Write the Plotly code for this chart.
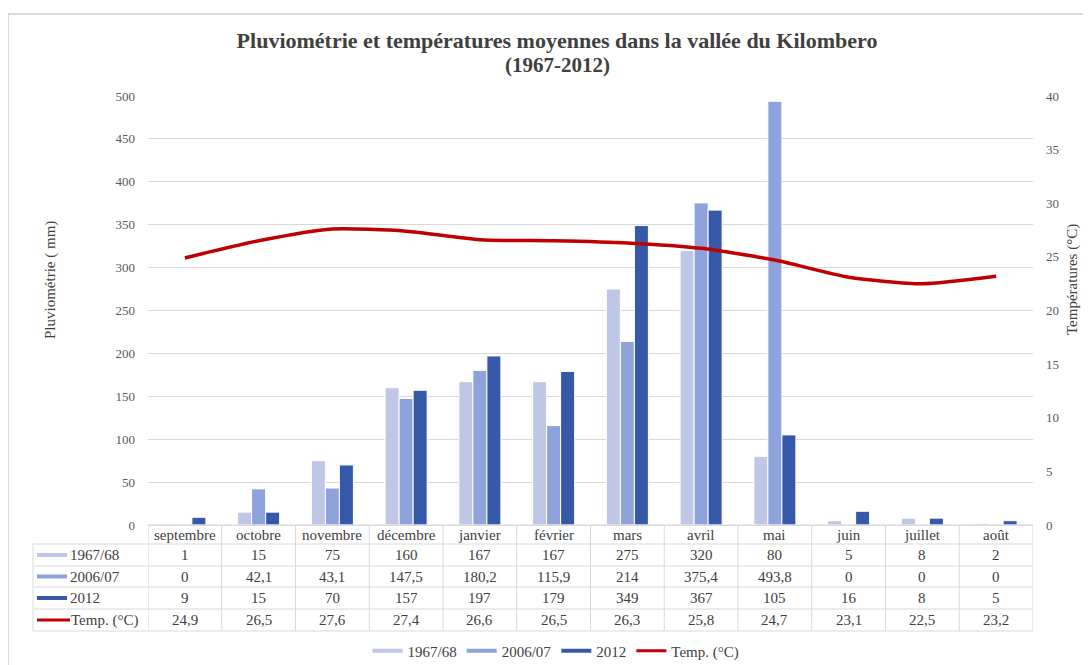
import plotly.graph_objects as go

months = ["septembre", "octobre", "novembre", "décembre", "janvier", "février",
          "mars", "avril", "mai", "juin", "juillet", "août"]
rain_1967 = [1, 15, 75, 160, 167, 167, 275, 320, 80, 5, 8, 2]
rain_2006 = [0, 42.1, 43.1, 147.5, 180.2, 115.9, 214, 375.4, 493.8, 0, 0, 0]
rain_2012 = [9, 15, 70, 157, 197, 179, 349, 367, 105, 16, 8, 5]
temp = [24.9, 26.5, 27.6, 27.4, 26.6, 26.5, 26.3, 25.8, 24.7, 23.1, 22.5, 23.2]

series_names = ["1967/68", "2006/07", "2012", "Temp. (°C)"]
colors = ["#BFC7E7", "#8EA2DC", "#3558A9", "#C00000"]

W, H = 1091, 665
OFF = 8  # page body offset
FONT = "Liberation Serif"
TXT = "#404040"
GRID = "#D9D9D9"

def px(x):
    return (x - OFF) / W

def py(y):
    return 1 - (y - OFF) / H

fig = go.Figure()
for vals, name, col in zip([rain_1967, rain_2006, rain_2012], series_names[:3], colors[:3]):
    fig.add_trace(go.Bar(x=months, y=vals, name=name, marker=dict(color=col, line=dict(color="white", width=1)),
                         showlegend=False, yaxis="y"))
fig.add_trace(go.Scatter(x=months, y=temp, name=series_names[3], mode="lines",
                         line=dict(color=colors[3], width=3.5, shape="spline", smoothing=0.6),
                         showlegend=False, yaxis="y2"))
for name, col, w in zip(series_names, colors, [4, 4, 4, 3]):
    fig.add_trace(go.Scatter(x=[None], y=[None], mode="lines", name=name,
                             line=dict(color=col, width=w), showlegend=True, yaxis="y"))

x_dom = [px(148), px(1033)]
y_dom = [py(525), py(96)]

shapes = []
annotations = []

shapes.append(dict(type="rect", xref="paper", yref="paper", x0=px(8), x1=px(1110), y0=py(690), y1=py(14),
                   line=dict(color="#D0D0D0", width=1.5), fillcolor="rgba(0,0,0,0)", layer="below"))

rows_y = [525, 544, 566, 587, 609, 631]
left_x = 33
for i, yy in enumerate(rows_y):
    if i >= 1:
        shapes.append(dict(type="line", xref="paper", yref="paper", x0=px(left_x), x1=px(148),
                           y0=py(yy), y1=py(yy), line=dict(color=GRID, width=1)))
    shapes.append(dict(type="line", xref="x", yref="paper", x0=-0.5, x1=11.5,
                       y0=py(yy), y1=py(yy), line=dict(color=GRID, width=1)))
for i in range(13):
    shapes.append(dict(type="line", xref="x", yref="paper", x0=i - 0.5, x1=i - 0.5,
                       y0=py(525), y1=py(631), line=dict(color=GRID, width=1)))
shapes.append(dict(type="line", xref="paper", yref="paper", x0=px(left_x), x1=px(left_x),
                   y0=py(544), y1=py(631), line=dict(color=GRID, width=1)))

CELL_FONT = dict(family=FONT, size=15, color=TXT)
for m in months:
    annotations.append(dict(x=m, xref="x", y=py((rows_y[0] + rows_y[1]) / 2), yref="paper",
                            xanchor="center", yanchor="middle",
                            text=m, showarrow=False, font=CELL_FONT))
data_rows = [rain_1967, rain_2006, rain_2012, temp]
for r, (vals, name, col) in enumerate(zip(data_rows, series_names, colors)):
    yc = py((rows_y[r + 1] + rows_y[r + 2]) / 2)
    for m, v in zip(months, vals):
        s = ("%g" % v).replace(".", ",")
        annotations.append(dict(x=m, xref="x", y=yc, yref="paper", text=s, showarrow=False,
                                xanchor="center", yanchor="middle", font=CELL_FONT))
    is_line = r == 3
    shapes.append(dict(type="line", xref="paper", yref="paper",
                       x0=px(37), x1=px(70 if is_line else 67), y0=yc, y1=yc,
                       line=dict(color=col, width=3 if is_line else 4)))
    annotations.append(dict(x=px(69 if is_line else 68), xref="paper", y=yc, yref="paper", text=name,
                            showarrow=False, xanchor="left", yanchor="middle", font=CELL_FONT))

annotations.append(dict(x=px(50), xref="paper", y=py(280), yref="paper", text="Pluviométrie ( mm)",
                        textangle=-90, showarrow=False, xanchor="center", yanchor="middle",
                        font=dict(family=FONT, size=15, color=TXT)))
annotations.append(dict(x=px(1072), xref="paper", y=py(280), yref="paper", text="Températures (°C)",
                        textangle=-90, showarrow=False, xanchor="center", yanchor="middle",
                        font=dict(family=FONT, size=15, color=TXT)))
annotations.append(dict(x=px(557), xref="paper", y=py(65), yref="paper", text="<b>(1967-2012)</b>",
                        showarrow=False, xanchor="center", yanchor="middle",
                        font=dict(family=FONT, size=21, color=TXT)))

fig.update_layout(
    width=W, height=H,
    margin=dict(l=0, r=0, t=0, b=0, autoexpand=False),
    paper_bgcolor="white", plot_bgcolor="white",
    font=dict(family=FONT, color=TXT),
    title=dict(text="<b>Pluviométrie et températures moyennes dans la vallée du Kilombero</b>",
               x=px(557), xanchor="center", y=py(40), yanchor="middle",
               font=dict(family=FONT, size=22, color=TXT)),
    barmode="group", bargap=0.43, bargroupgap=0,
    xaxis=dict(domain=x_dom, range=[-0.5, 11.5], showticklabels=False, showgrid=False,
               showline=True, linecolor=GRID, zeroline=False, ticks=""),
    yaxis=dict(domain=y_dom, range=[0, 500], dtick=50, showgrid=True, gridcolor=GRID,
               zeroline=False, showline=False, ticks="", ticklabelstandoff=12,
               tickfont=dict(family=FONT, size=13, color="#595959")),
    yaxis2=dict(domain=y_dom, range=[0, 40], dtick=5, overlaying="y", side="right",
                showgrid=False, zeroline=False, showline=False, ticks="", ticklabelstandoff=12,
                tickfont=dict(family=FONT, size=13, color="#595959")),
    legend=dict(orientation="h", x=px(556), xanchor="center", y=py(651), yanchor="middle",
                font=dict(family=FONT, size=15, color=TXT), itemwidth=30, bgcolor="rgba(0,0,0,0)"),
    shapes=shapes, annotations=annotations,
)

fig.write_html("out.html")
